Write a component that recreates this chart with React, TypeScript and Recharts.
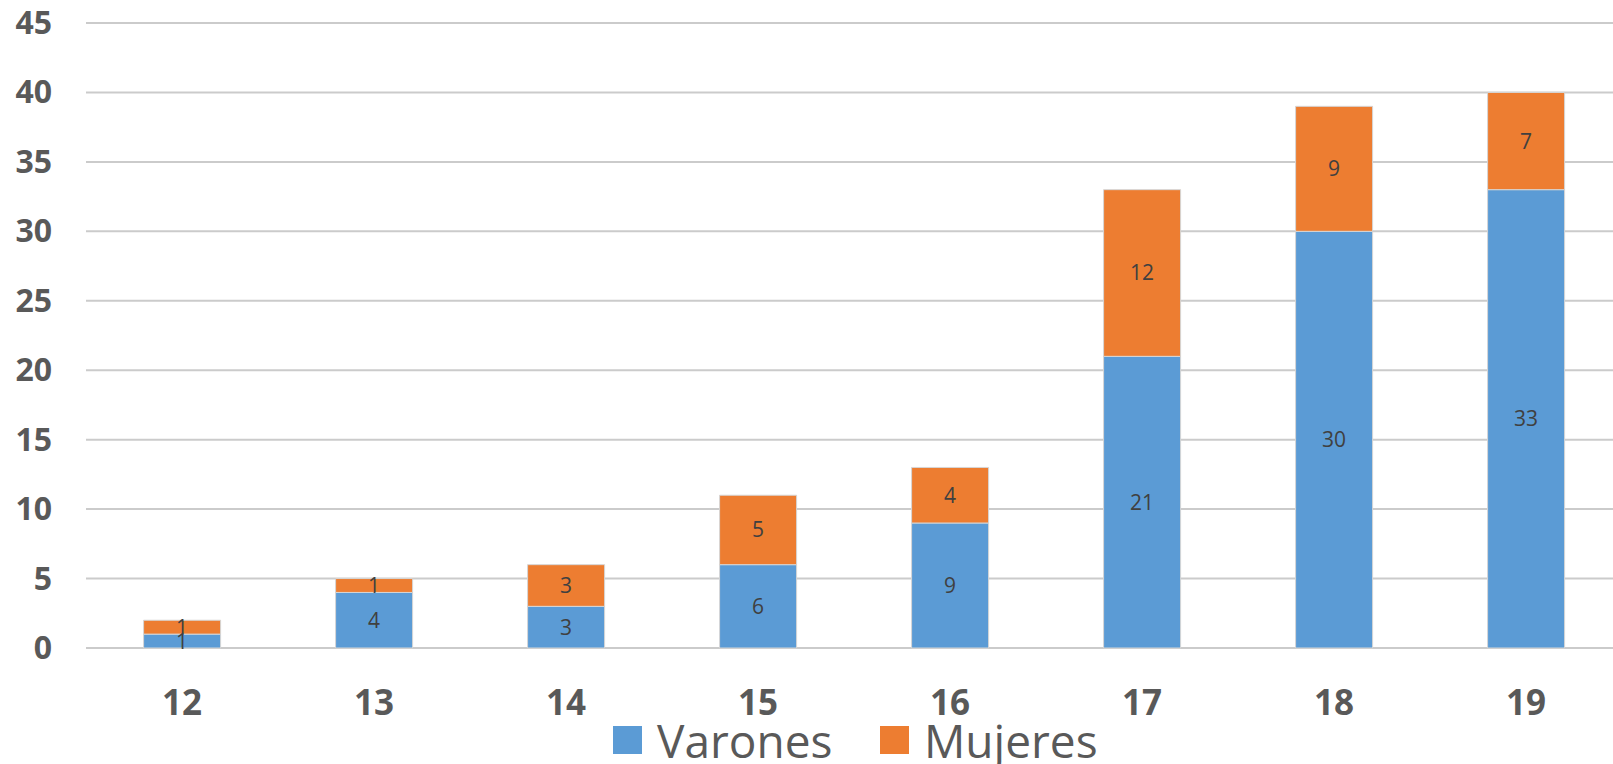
import { BarChart, Bar, XAxis, YAxis, CartesianGrid, LabelList } from "recharts";

const ages = ["12", "13", "14", "15", "16", "17", "18", "19"];
const varones = [1, 4, 3, 6, 9, 21, 30, 33];
const mujeres = [1, 1, 3, 5, 4, 12, 9, 7];
const yTicks = [0, 5, 10, 15, 20, 25, 30, 35, 40, 45];

const BLUE = "#5B9BD5";
const ORANGE = "#ED7D31";
const FONT = "'Open Sans', sans-serif";

const data = ages.map((age, i) => ({
  age,
  varones: varones[i],
  mujeres: mujeres[i],
}));

function XTick({ x, y, payload }: any) {
  return (
    <text x={x} y={y + 59} textAnchor="middle" fontFamily={FONT} fontWeight={700} fontSize={35} fill="#595959">
      {payload.value}
    </text>
  );
}

function YTick({ y, payload }: any) {
  return (
    <text x={52} y={y + 11} textAnchor="end" fontFamily={FONT} fontWeight={700} fontSize={32} fill="#595959">
      {payload.value}
    </text>
  );
}

// legend drawn as plain html under the axis
const legendItems = [
  { name: "Varones", color: BLUE, left: 613 },
  { name: "Mujeres", color: ORANGE, left: 880 },
];

function ChartLegend() {
  return (
    <>
      {legendItems.map((it) => (
        <div
          key={it.name}
          style={{
            position: "absolute",
            left: it.left,
            top: 725,
            height: 30,
            display: "flex",
            alignItems: "center",
            fontFamily: FONT,
            color: "#595959",
          }}
        >
          <div style={{ width: 29, height: 28, background: it.color, marginRight: 15 }} />
          <span style={{ display: "inline-block", fontSize: 46, lineHeight: "30px", whiteSpace: "nowrap" }}>{it.name}</span>
        </div>
      ))}
    </>
  );
}

export default function App() {
  return (
    <div style={{ position: "absolute", left: 0, top: 0, width: 1613, height: 764, overflow: "hidden", background: "#fff" }}>
      <BarChart
        width={1630}
        height={764}
        data={data}
        margin={{ top: 23, right: 8, left: 0, bottom: 56 }}
        barCategoryGap="30%"
      >
        <CartesianGrid vertical={false} stroke="#cbcbcb" strokeWidth={2} />
        <XAxis
          dataKey="age"
          axisLine={false}
          tickLine={false}
          tick={<XTick />}
          height={60}
          interval={0}
        />
        <YAxis
          width={86}
          domain={[0, 45]}
          ticks={yTicks}
          axisLine={false}
          tickLine={false}
          tick={<YTick />}
        />
        <Bar dataKey="varones" name="Varones" stackId="a" fill={BLUE} stroke="#d6d6d6" strokeWidth={1} isAnimationActive={false}>
          <LabelList dataKey="varones" position="center" fill="#404040" fontSize={21} fontFamily={FONT} />
        </Bar>
        <Bar dataKey="mujeres" name="Mujeres" stackId="a" fill={ORANGE} stroke="#d6d6d6" strokeWidth={1} isAnimationActive={false}>
          <LabelList dataKey="mujeres" position="center" fill="#404040" fontSize={21} fontFamily={FONT} />
        </Bar>
      </BarChart>
      <ChartLegend />
    </div>
  );
}
